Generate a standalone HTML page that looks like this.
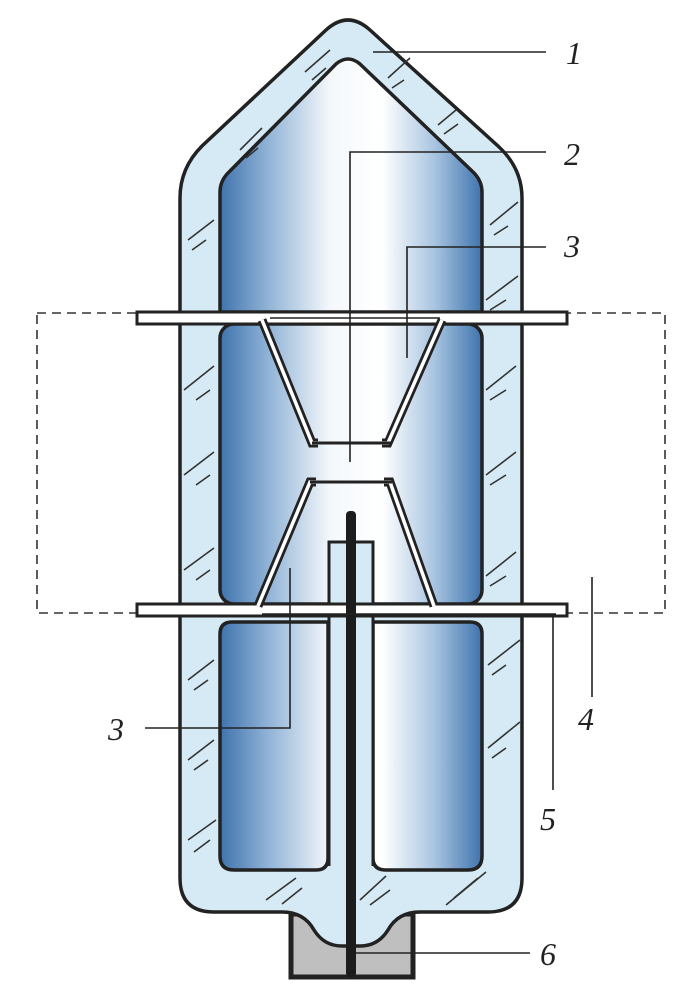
<!DOCTYPE html>
<html><head><meta charset="utf-8"><style>
html,body{margin:0;padding:0;background:#fff;}
svg{display:block}
text{font-family:"Liberation Serif",serif;font-style:italic;font-size:32px;fill:#222}
</style></head><body>
<svg width="694" height="1000" viewBox="0 0 694 1000" xmlns="http://www.w3.org/2000/svg">
<defs>
<linearGradient id="cav" x1="220" y1="0" x2="482" y2="0" gradientUnits="userSpaceOnUse">
<stop offset="0" stop-color="#3f73ad"/>
<stop offset="0.18" stop-color="#8fb2d6"/>
<stop offset="0.42" stop-color="#f4f8fb"/>
<stop offset="0.62" stop-color="#ffffff"/>
<stop offset="0.82" stop-color="#a8c4e0"/>
<stop offset="1" stop-color="#3f73ad"/>
</linearGradient>
</defs>
<rect x="37" y="313" width="628" height="300" fill="none" stroke="#333" stroke-width="1.6" stroke-dasharray="9,6"/>
<rect x="291" y="914" width="122" height="63" fill="#bfbfbf" stroke="#222" stroke-width="5"/>
<path d="M180,878 L180,198 Q180,168 202,146 L326,30 Q348,10 370,30 L498,146 Q522,168 522,198 L522,878 Q522,912 488,912 L420,912 Q398,912 388,930 Q378,946 360,946 L342,946 Q324,946 314,930 Q304,912 282,912 L214,912 Q180,912 180,878 Z" fill="#d5eaf4" stroke="#222" stroke-width="3.5"/>
<path d="M220,312 L220,192 Q220,180 230,171 L336,64 Q348,54 360,64 L472,171 Q482,180 482,192 L482,312 Z" fill="url(#cav)" stroke="#222" stroke-width="3.5"/>
<rect x="220" y="324" width="262" height="280" rx="14" fill="url(#cav)" stroke="#222" stroke-width="3.5"/>
<path d="M232,622 L328,622 L328,858 Q328,870 316,870 L234,870 Q220,870 220,856 L220,634 Q220,622 232,622 Z" fill="url(#cav)" stroke="#222" stroke-width="3.5"/>
<path d="M373,622 L470,622 Q482,622 482,634 L482,856 Q482,870 468,870 L386,870 Q373,870 373,858 Z" fill="url(#cav)" stroke="#222" stroke-width="3.5"/>
<rect x="329" y="542" width="44" height="330" fill="#d5eaf4"/>
<path d="M329,866 L329,542 L373,542 L373,866" fill="none" stroke="#222" stroke-width="3"/>
<rect x="137" y="312" width="430" height="12" fill="#fff" stroke="#222" stroke-width="3"/>
<rect x="137" y="604" width="430" height="12" fill="#fff" stroke="#222" stroke-width="3"/>
<g fill="none" stroke-linejoin="miter">
<polyline points="262,320 312,443 318,443" stroke="#222" stroke-width="9"/>
<polyline points="262,320 312,443 318,443" stroke="#fff" stroke-width="3.5"/>
<polyline points="442,320 388,443 382,443" stroke="#222" stroke-width="9"/>
<polyline points="442,320 388,443 382,443" stroke="#fff" stroke-width="3.5"/>
<polyline points="258,606 310,482 316,482" stroke="#222" stroke-width="9"/>
<polyline points="258,606 310,482 316,482" stroke="#fff" stroke-width="3.5"/>
<polyline points="434,606 390,482 384,482" stroke="#222" stroke-width="9"/>
<polyline points="434,606 390,482 384,482" stroke="#fff" stroke-width="3.5"/>
</g>
<line x1="312" y1="443" x2="392" y2="443" stroke="#222" stroke-width="3"/>
<line x1="310" y1="482" x2="392" y2="482" stroke="#222" stroke-width="3"/>
<rect x="346" y="511" width="10" height="466" rx="4" fill="#1c1c1c"/>
<g stroke="#333" stroke-width="1.6" fill="none">
<path d="M305,72 L330,50 M312,80 L326,68"/><path d="M240,150 L262,128 M246,158 L258,148"/><path d="M388,78 L410,58 M392,88 L404,80"/>
<path d="M438,125 L456,110 M444,134 L458,124"/><path d="M188,240 L214,220 M192,250 L206,240"/><path d="M490,225 L518,202 M494,235 L508,226"/>
<path d="M486,300 L518,276 M490,310 L506,300"/><path d="M184,390 L214,366 M196,400 L210,390"/><path d="M486,390 L516,366 M490,400 L506,390"/>
<path d="M184,475 L214,452 M196,485 L210,475"/><path d="M486,475 L516,452 M490,485 L506,475"/><path d="M184,570 L214,548 M196,580 L210,570"/>
<path d="M486,576 L516,552 M490,586 L506,576"/><path d="M188,680 L214,660 M194,690 L208,680"/><path d="M488,665 L520,640 M492,675 L506,665"/>
<path d="M188,760 L214,740 M194,770 L208,760"/><path d="M488,748 L520,722 M492,758 L506,748"/><path d="M188,840 L216,820 M194,852 L210,840"/>
<path d="M266,900 L296,878 M282,904 L302,888"/><path d="M360,900 L386,876 M370,905 L390,890"/><path d="M446,905 L486,872 M454,898 L478,878"/>
</g>
<g stroke="#222" stroke-width="1.6" fill="none">
<line x1="373" y1="52" x2="546" y2="52"/>
<polyline points="350,462 350,152 546,152"/>
<polyline points="407,358 407,247 546,247"/>
<polyline points="145,728 290,728 290,568"/>
<line x1="270" y1="318" x2="440" y2="318"/>
<line x1="262" y1="614" x2="556" y2="614"/>
<line x1="592" y1="577" x2="592" y2="697"/>
<line x1="553" y1="616" x2="553" y2="790"/>
<line x1="356" y1="953" x2="530" y2="953"/>
</g>
<text x="566" y="64">1</text>
<text x="564" y="165">2</text>
<text x="564" y="257">3</text>
<text x="108" y="740">3</text>
<text x="578" y="730">4</text>
<text x="540" y="830">5</text>
<text x="540" y="965">6</text>
</svg>
</body></html>
